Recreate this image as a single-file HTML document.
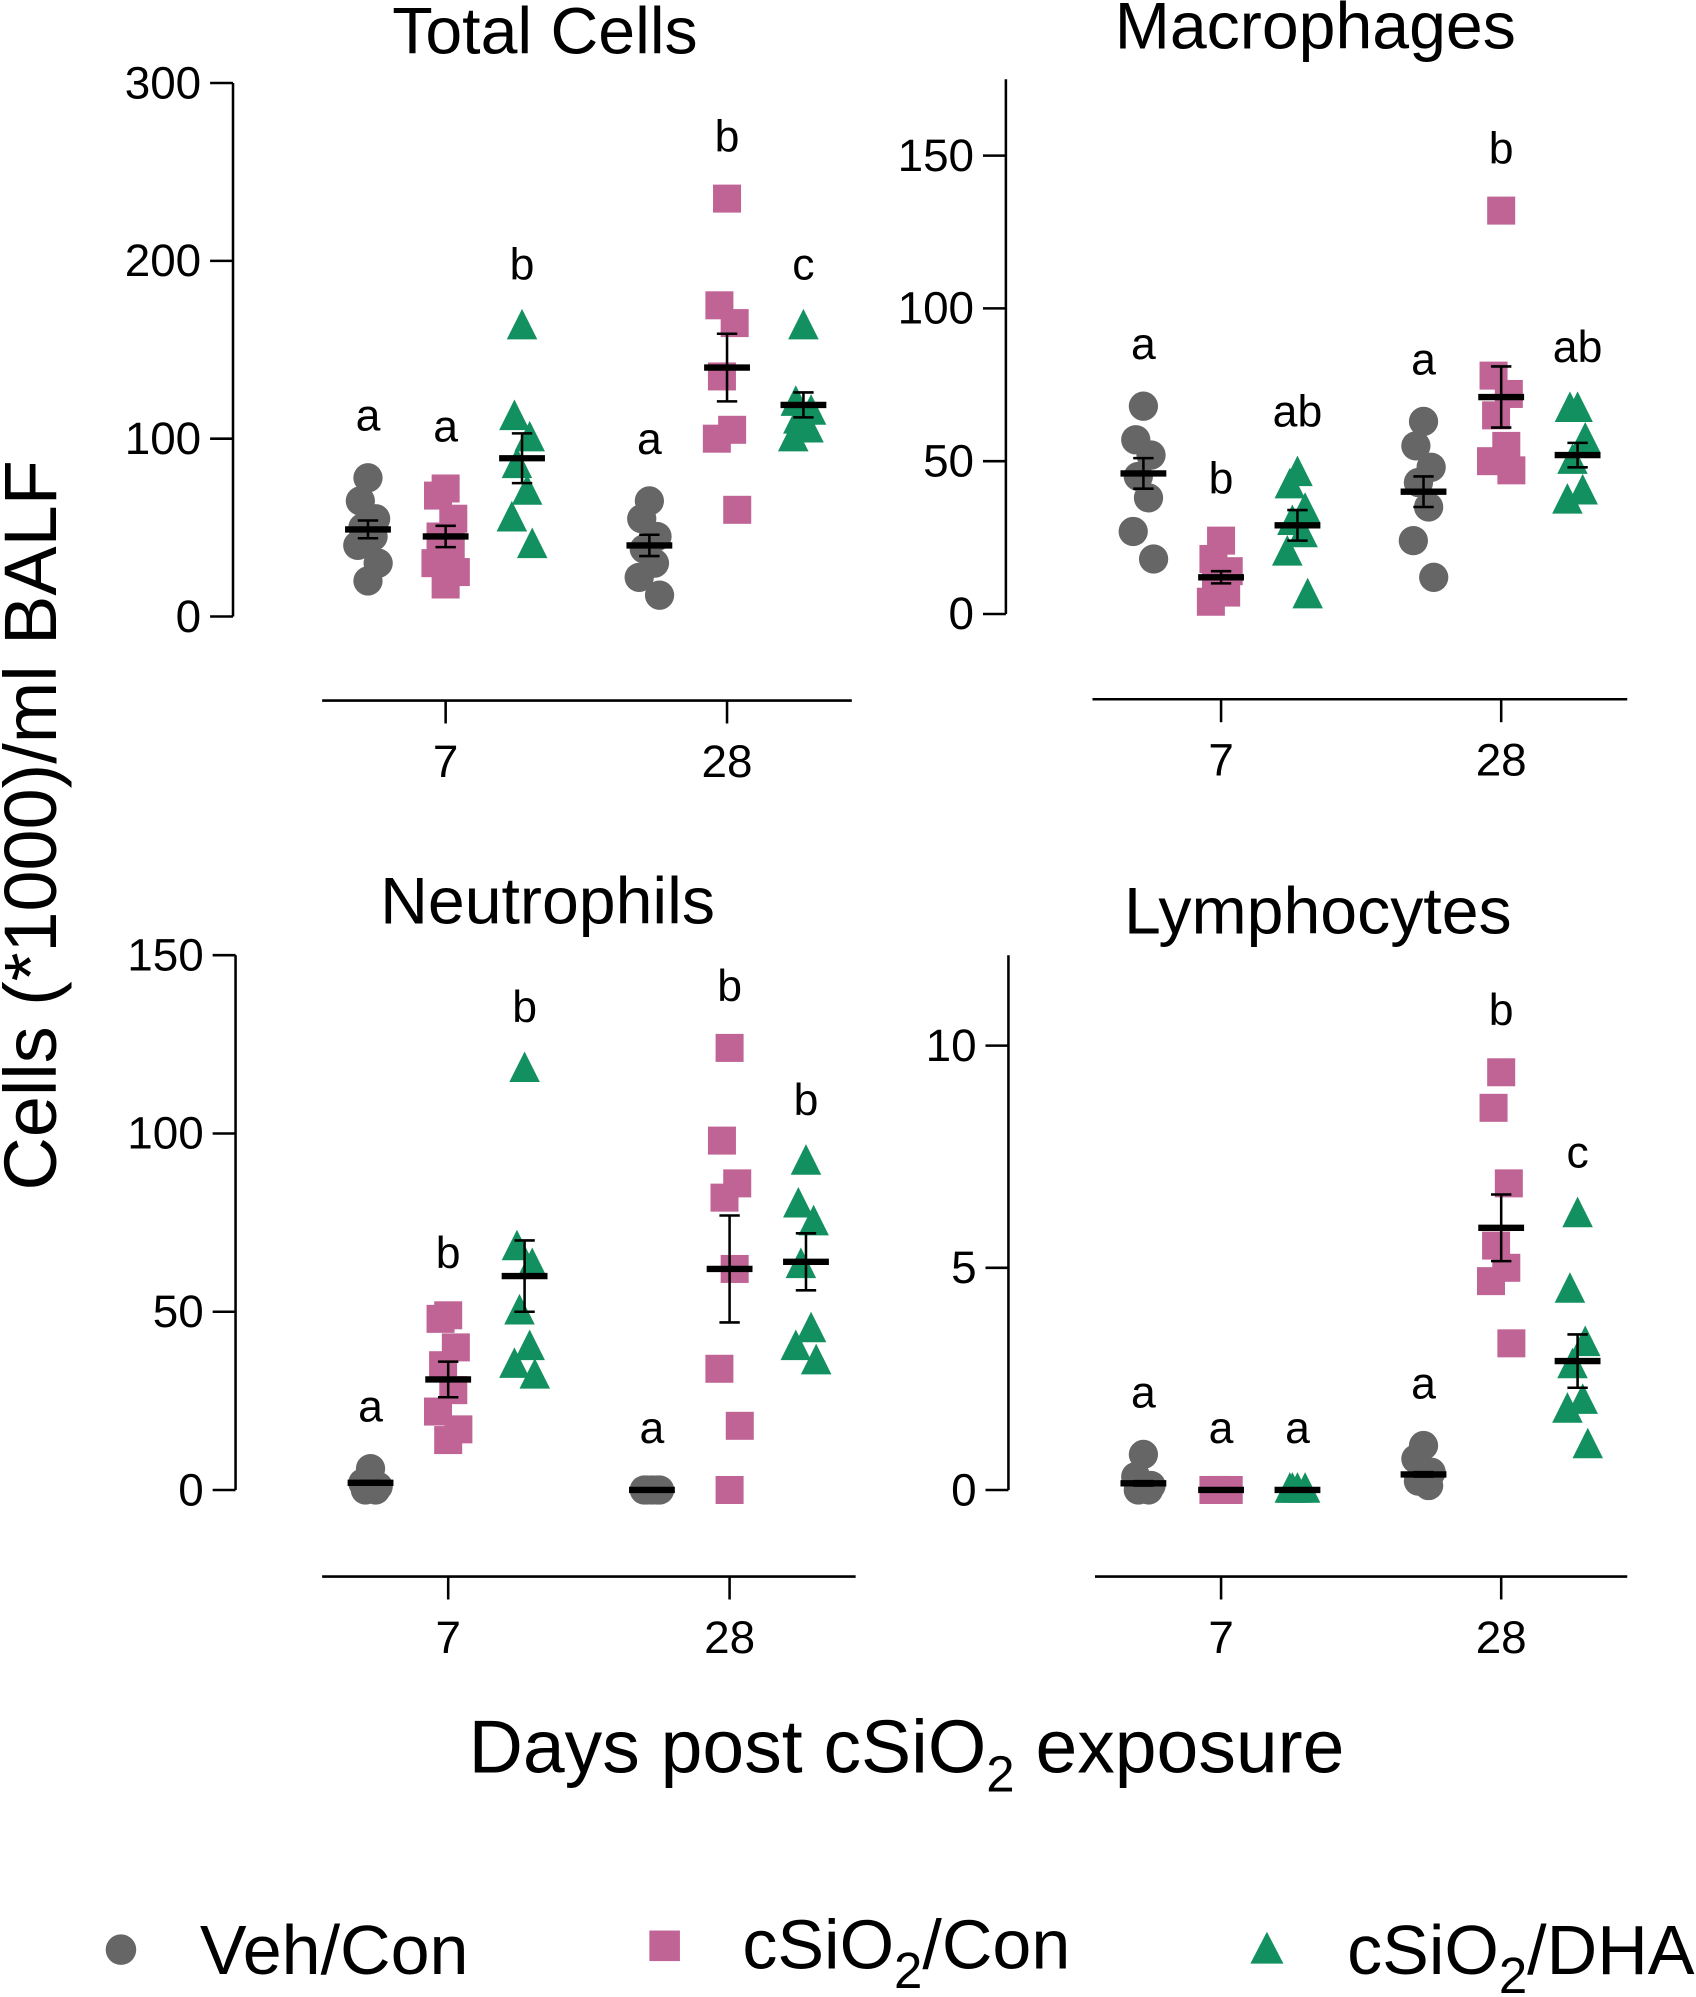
<!DOCTYPE html>
<html><head><meta charset="utf-8"><style>
html,body{margin:0;padding:0;background:#fff;}
svg{display:block;}
text{font-family:"Liberation Sans",Arial,sans-serif;fill:#000;}
</style></head><body>
<svg id="fig" width="1696" height="1997" viewBox="0 0 1332 1568" xmlns="http://www.w3.org/2000/svg">
<text transform="translate(44,648) rotate(-90)" text-anchor="middle" font-size="58">Cells (*1000)/ml BALF</text>
<text x="712" y="1392" text-anchor="middle" font-size="59">Days post cSiO<tspan font-size="40" dy="15">2</tspan><tspan dy="-15"> exposure</tspan></text>
<g>
<circle cx="95" cy="1531" r="12" fill="#666666"/>
<text x="157" y="1550" font-size="55">Veh/Con</text>
<rect x="510" y="1516" width="24" height="24" fill="#c06496"/>
<text x="583" y="1546" font-size="55">cSiO<tspan font-size="40" dy="15">2</tspan><tspan dy="-15">/Con</tspan></text>
<polygon points="995,1517 1008,1542 982,1542" fill="#139060"/>
<text x="1058" y="1550" font-size="55">cSiO<tspan font-size="40" dy="15">2</tspan><tspan dy="-15">/DHA</tspan></text>
</g>
</svg>
<script>
// ---- data ----
const panelTitles = ["Total Cells","Macrophages","Neutrophils","Lymphocytes"];
const groupNames = ["Veh/Con","cSiO2/Con","cSiO2/DHA"];
const dayLabels = ["7","28"];
const yTicksTotal = [0,100,200,300];
const yTicksMac = [0,50,100,150];
const yTicksNeu = [0,50,100,150];
const yTicksLym = [0,5,10];
// values: [day7 veh, day7 si, day7 dha, day28 veh, day28 si, day28 dha]
const totalVals = [[78,65,55,50,45,40,30,20],[72,68,55,45,40,30,25,18],[163,112,100,85,70,55,40],[65,55,45,38,30,22,12],[235,175,165,135,105,100,60],[163,120,115,110,105,100]];
const totalMean = [49,45,89,40,140,119];
const totalSem = [5,6,14,6,19,7];
const totalLetters = ["a","a","b","a","b","c"];
const macVals = [[68,57,52,45,38,27,18],[24,18,14,10,7,4],[46,42,34,30,26,20,6],[63,55,48,43,35,24,12],[132,78,72,65,55,50,47],[67,67,57,50,40,37]];
const macMean = [46,12,29,40,71,52];
const macSem = [5,2,5,5,10,4];
const macLetters = ["a","b","ab","a","b","ab"];
const neuVals = [[6,2,1,0,0],[49,48,40,35,28,22,17,14],[118,68,63,50,40,35,32],[0,0,0,0,0],[124,98,86,82,62,34,18,0],[92,80,75,63,45,40,36]];
const neuMean = [2,31,60,0,62,64];
const neuSem = [0.5,5,10,0.3,15,8];
const neuLetters = ["a","b","b","a","b","b"];
const lymVals = [[0.8,0.3,0.1,0,0],[0,0,0,0],[0,0,0,0],[1.0,0.7,0.4,0.2,0.1],[9.4,8.6,6.9,5.5,5.0,4.7,3.3],[6.2,4.5,3.3,2.8,2.0,1.8,1.0]];
const lymMean = [0.15,0,0,0.35,5.9,2.9];
const lymSem = [0.05,0,0,0.05,0.75,0.6];
const lymLetters = ["a","a","a","a","b","c"];

const NS="http://www.w3.org/2000/svg";
const svg=document.getElementById('fig');
const colors=["#666666","#c06496","#139060"];
const jit=[0,-6,6,-4,4,-8,8,0];
function mk(tag,attrs,parent){const e=document.createElementNS(NS,tag);for(const k in attrs)e.setAttribute(k,attrs[k]);(parent||svg).appendChild(e);return e;}

function panel(cfg){
  const g=mk('g',{});
  
  
  const y=v=>cfg.y0-(v-0)*(cfg.y0-cfg.yTop)/cfg.vTop;
  const t=mk('text',{x:cfg.tx,y:cfg.ty,'text-anchor':'middle','font-size':52},g);t.textContent=cfg.title;
  
  
  const ya=mk('line',{x1:cfg.ax,x2:cfg.ax,y1:cfg.axTop,y2:cfg.y0,stroke:'#000','stroke-width':2},g);
  
  
  cfg.ticks.forEach(v=>{
    mk('line',{x1:cfg.ax-18,x2:cfg.ax,y1:y(v),y2:y(v),stroke:'#000','stroke-width':2},g);
    const l=mk('text',{x:cfg.ax-25,y:y(v)+12,'text-anchor':'end','font-size':36},g);l.textContent=v;
    
    
  });
  const xa=mk('line',{x1:cfg.xl,x2:cfg.xr,y1:cfg.xy,y2:cfg.xy,stroke:'#000','stroke-width':2},g);
  
  
  dayLabels.forEach((d,i)=>{
    const cx=cfg.dayX[i];
    mk('line',{x1:cx,x2:cx,y1:cfg.xy,y2:cfg.xy+18,stroke:'#000','stroke-width':2},g);
    const l=mk('text',{x:cx,y:cfg.xy+60,'text-anchor':'middle','font-size':36},g);l.textContent=d;
    
    
  });
  cfg.vals.forEach((arr,gi)=>{
    const di=Math.floor(gi/3),s=gi%3;
    const cx=cfg.dayX[di]+(s-1)*60+(s===0?-1:0);
    const c=colors[s];
    const pts=mk('g',{},g);
    
    
    arr.forEach((v,k)=>{
      const px=cx+jit[k%jit.length],py=y(v);
      let m;
      if(s===0)m=mk('circle',{cx:px,cy:py,r:11.5,fill:c},pts);
      else if(s===1)m=mk('rect',{x:px-11,y:py-11,width:22,height:22,fill:c},pts);
      else m=mk('polygon',{points:`${px},${py-14} ${px+12},${py+10} ${px-12},${py+10}`,fill:c},pts);
      
      
    });
    const mn=cfg.mean[gi],se=cfg.sem[gi];
    const eb=mk('g',{},g);
    
    
    if(se>0.2*(cfg.vTop/150)){
      mk('line',{x1:cx,x2:cx,y1:y(mn+se),y2:y(mn-se),stroke:'#000','stroke-width':2},eb);
      mk('line',{x1:cx-8,x2:cx+8,y1:y(mn+se),y2:y(mn+se),stroke:'#000','stroke-width':2},eb);
      mk('line',{x1:cx-8,x2:cx+8,y1:y(mn-se),y2:y(mn-se),stroke:'#000','stroke-width':2},eb);
    }
    mk('line',{x1:cx-18,x2:cx+18,y1:y(mn),y2:y(mn),stroke:'#000','stroke-width':5},eb);
    const top=Math.max(...arr);
    const lt=mk('text',{x:cx,y:y(top)-37,'text-anchor':'middle','font-size':35},g);lt.textContent=cfg.letters[gi];
    
    
  });
}
panel({id:'total-cells',title:panelTitles[0],tx:428,ty:42,ax:183,axTop:65,y0:484,yTop:65,vTop:300,ticks:yTicksTotal,xl:253,xr:669,xy:550,dayX:[350,571],vals:totalVals,mean:totalMean,sem:totalSem,letters:totalLetters});
panel({id:'macrophages',title:panelTitles[1],tx:1033,ty:38,ax:790,axTop:62,y0:482,yTop:122,vTop:150,ticks:yTicksMac,xl:858,xr:1278,xy:549,dayX:[959,1179],vals:macVals,mean:macMean,sem:macSem,letters:macLetters});
panel({id:'neutrophils',title:panelTitles[2],tx:430,ty:725,ax:185,axTop:750,y0:1170,yTop:750,vTop:150,ticks:yTicksNeu,xl:253,xr:672,xy:1238,dayX:[352,573],vals:neuVals,mean:neuMean,sem:neuSem,letters:neuLetters});
panel({id:'lymphocytes',title:panelTitles[3],tx:1035,ty:733,ax:792,axTop:750,y0:1170,yTop:821,vTop:10,ticks:yTicksLym,xl:860,xr:1278,xy:1238,dayX:[959,1179],vals:lymVals,mean:lymMean,sem:lymSem,letters:lymLetters});
</script>
</body></html>
